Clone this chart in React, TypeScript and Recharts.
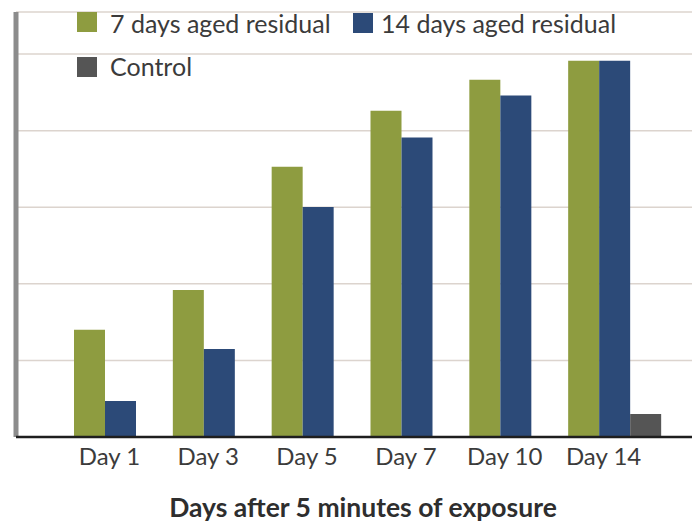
import { BarChart, Bar, XAxis, YAxis, CartesianGrid, Legend, Label } from 'recharts'

// valores (escala relativa, sin etiquetas en el eje Y)
const days = ['Day 1', 'Day 3', 'Day 5', 'Day 7', 'Day 10', 'Day 14']
const aged7 = [28, 38.4, 70.6, 85.2, 93.3, 98.3]
const aged14 = [9.4, 23, 60.1, 78.2, 89.2, 98.3]
const control = [0, 0, 0, 0, 0, 6]
const yTicks = [0, 20, 40, 60, 80, 100]

const data = days.map((day, i) => ({
  day,
  aged7: aged7[i],
  aged14: aged14[i],
  control: control[i],
}))

const FONT = 'Lato, "Open Sans", sans-serif'
const TEXT = '#3b3b3b'

// posiciones de la leyenda como en el original (dos filas)
const legendPos: Record<string, { sq: number[]; tx: number[] }> = {
  aged7: { sq: [77, 12], tx: [110, 11] },
  aged14: { sq: [353, 13], tx: [381, 11] },
  control: { sq: [77, 57], tx: [110, 54] },
}

function CustomLegend({ payload }: { payload?: { value: string; color: string; dataKey?: string }[] }) {
  if (!payload) return null
  return (
    <div style={{ position: 'relative', width: 697, height: 90, fontFamily: FONT }}>
      {payload.map((p) => {
        const pos = legendPos[String(p.dataKey)]
        if (!pos) return null
        return (
          <div key={p.value}>
            <div
              style={{
                position: 'absolute', left: pos.sq[0], top: pos.sq[1],
                width: 20, height: 20, background: p.color,
              }}
            />
            <div
              style={{
                position: 'absolute', left: pos.tx[0], top: pos.tx[1],
                fontSize: 25, lineHeight: '25px', color: TEXT, whiteSpace: 'nowrap',
              }}
            >
              {p.value}
            </div>
          </div>
        )
      })}
    </div>
  )
}

export default function App() {
  return (
    <div style={{ position: 'absolute', left: 0, top: 0, background: '#fff' }}>
      <BarChart
        width={697}
        height={525}
        data={data}
        margin={{ top: 12, right: 5, left: 12, bottom: 0 }}
        barGap={0}
        barSize={31}
      >
        <CartesianGrid vertical={false} stroke="#dcd4ce" strokeWidth={1.5} />
        <YAxis
          width={4}
          domain={[0, 111]}
          ticks={yTicks}
          tick={() => <g />}
          tickLine={false}
          axisLine={{ stroke: '#8c8c8c', strokeWidth: 5 }}
        />
        <XAxis
          dataKey="day"
          height={88}
          padding={{ left: 55, right: 28 }}
          tickLine={false}
          tickSize={0}
          tickMargin={11}
          axisLine={{ stroke: '#1e1e1e', strokeWidth: 2.5 }}
          tick={{ fontSize: 24, fill: TEXT, fontFamily: FONT, dx: -11 }}
        >
          <Label
            value="Days after 5 minutes of exposure"
            position="insideBottom"
            offset={8}
            dx={9}
            style={{ fontSize: 26.5, fontWeight: 700, fill: '#2e2e2e', fontFamily: FONT }}
          />
        </XAxis>
        <Legend
          layout="horizontal"
          verticalAlign="middle"
          align="center"
          wrapperStyle={{ top: 0, left: 0, width: 697 }}
          content={<CustomLegend />}
        />
        <Bar dataKey="aged7" name="7 days aged residual" fill="#8e9c40" isAnimationActive={false} />
        <Bar dataKey="aged14" name="14 days aged residual" fill="#2c4a78" isAnimationActive={false} />
        <Bar dataKey="control" name="Control" fill="#555555" isAnimationActive={false} />
      </BarChart>
    </div>
  )
}
